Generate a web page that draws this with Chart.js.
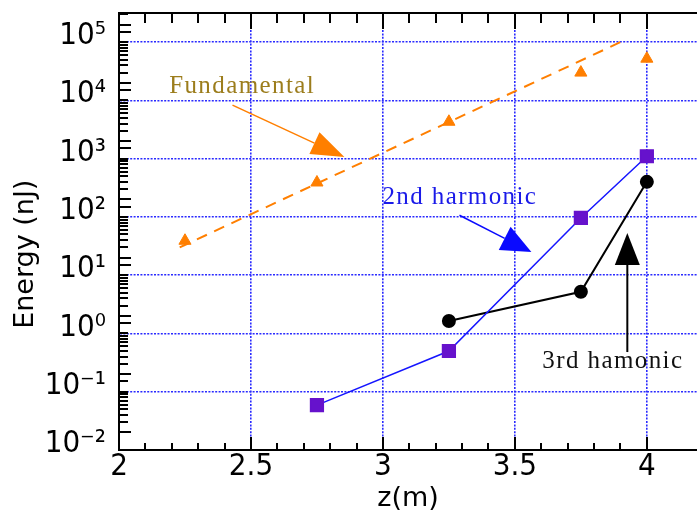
<!DOCTYPE html>
<html>
<head>
<meta charset="utf-8">
<script src="https://cdn.jsdelivr.net/npm/chart.js@4.4.1/dist/chart.umd.min.js"></script>
<style>
    html, body { margin: 0; padding: 0; background: #fff; }
    canvas { display: block; }
</style>
</head>
<body>
<canvas id="energyChart" width="697" height="516"></canvas>
<script>
const fundZ = [2.25, 2.75, 3.25, 3.75, 4.0];
const fundEnergy = [39, 390, 4300, 30000, 52000];
// dashed fit through the fundamental
const fitZ = [2.23, 3.91];
const fitEnergy = [30, 105000];
const secondZ = [2.75, 3.25, 3.75, 4.0];
const secondEnergy = [0.059, 0.5, 96, 1100];
const thirdZ = [3.25, 3.75, 4.0];
const thirdEnergy = [1.64, 5.2, 400];

// axis ticks
const zTickLabels = [2, 2.5, 3, 3.5, 4];
const energyExponents = [-2, -1, 0, 1, 2, 3, 4, 5];

// labels and arrows, in data coordinates
const noteTexts = ['Fundamental', '2nd harmonic', '3rd hamonic'];
const noteColors = ['#9c7d1c', '#1a1ae8', '#111111'];
const noteAt = [[2.19, 13300], [2.998, 166], [3.604, 0.256]];
const arrowFrom = [[2.43, 8300], [3.29, 107], [3.926, 0.48]];
const arrowTo = [[2.854, 1070], [3.5625, 25], [3.926, 53]];
const arrowColors = ['#ff7f00', '#0a0aff', '#000000'];

const supMap = {'-': '\u207B', '0': '\u2070', '1': '\u00B9', '2': '\u00B2', '3': '\u00B3', '4': '\u2074', '5': '\u2075'};
const tickFont = "'Liberation Sans Narrow', 'DejaVu Sans Condensed', sans-serif";
const gridBlue = '#2a2aff';

function pts(xs, ys) {
    return xs.map((v, i) => ({x: v, y: ys[i]}));
}

function decadeOf(v) {
    const e = Math.log10(v);
    return Math.abs(e - Math.round(e)) < 1e-6 ? Math.round(e) : null;
}

const data = {
    datasets: [
        {
            label: 'fit',
            data: pts(fitZ, fitEnergy),
            borderColor: '#ff7f00',
            borderWidth: 2,
            borderDash: [11, 8],
            pointRadius: 0,
            showLine: true
        },
        {
            label: 'Fundamental',
            data: pts(fundZ, fundEnergy),
            pointStyle: 'triangle',
            pointRadius: 7,
            backgroundColor: '#ff7f00',
            borderColor: '#ff7f00',
            showLine: false
        },
        {
            label: '2nd harmonic',
            data: pts(secondZ, secondEnergy),
            pointStyle: 'rect',
            pointRadius: 9,
            backgroundColor: '#6612cc',
            pointBorderColor: '#6612cc',
            borderColor: '#1515ff',
            borderWidth: 1.5,
            showLine: true
        },
        {
            label: '3rd harmonic',
            data: pts(thirdZ, thirdEnergy),
            pointStyle: 'circle',
            pointRadius: 6,
            backgroundColor: '#000',
            borderColor: '#000',
            borderWidth: 2,
            showLine: true
        }
    ]
};

let options = {
    responsive: false,
    animation: false,
    layout: {
        autoPadding: false,
        padding: {left: 0, top: 13, right: 0, bottom: 0}
    },
    plugins: {
        legend: {display: false},
        tooltip: {enabled: false}
    },
    scales: {
        x: {
            type: 'linear',
            min: 2,
            max: 4.19,
            border: {color: '#000', width: 2, dash: [2, 1.4]},
            grid: {
                drawTicks: false,
                lineWidth: 1.6,
                color: (c) => {
                    const v = c.tick ? c.tick.value : 0;
                    const h = v * 2;
                    return (Math.abs(h - Math.round(h)) < 1e-6 && v > 2.01) ? gridBlue : 'rgba(0,0,0,0)';
                }
            },
            ticks: {
                stepSize: 0.1,
                autoSkip: false,
                minRotation: 0,
                maxRotation: 0,
                padding: 1,
                color: '#000',
                font: {family: tickFont, size: 31, lineHeight: 1},
                callback: (v) => {
                    const hit = zTickLabels.find(t => Math.abs(t - v) < 1e-6);
                    return hit === undefined ? '' : String(hit);
                }
            },
            title: {
                display: true,
                text: 'z(m)',
                color: '#000',
                font: {family: "'DejaVu Sans', sans-serif", size: 27},
                padding: {top: 0, bottom: 1}
            },
            afterFit: (s) => {
                s.height = 66;
                s.paddingLeft = 0;
                s.paddingRight = 0;
            }
        },
        y: {
            type: 'logarithmic',
            min: 0.01,
            max: 316228,
            border: {color: '#000', width: 2, dash: [2, 1.4]},
            grid: {
                drawTicks: false,
                lineWidth: 1.6,
                color: (c) => {
                    const v = c.tick ? c.tick.value : 0;
                    const d = decadeOf(v);
                    return (d !== null && d > -2) ? gridBlue : 'rgba(0,0,0,0)';
                }
            },
            ticks: {
                autoSkip: false,
                padding: 13,
                labelOffset: -6,
                color: '#000',
                font: {family: tickFont, size: 31, lineHeight: 1},
                callback: (v) => {
                    const d = decadeOf(v);
                    if (d === null || !energyExponents.includes(d)) return '';
                    return '10' + String(d).split('').map(ch => supMap[ch]).join('');
                }
            },
            // title is drawn by the annotations plugin, it sits below the axis centre
            title: {display: false},
            afterFit: (s) => {
                s.width = 119;
                s.paddingTop = 0;
                s.paddingBottom = 0;
            }
        }
    }
};

// inward tick marks and the top frame line
const frameTicks = {
    id: 'frameTicks',
    afterDraw: (chart) => {
        const {ctx, chartArea: {left, right, top, bottom}, scales: {x, y}} = chart;
        ctx.save();
        ctx.strokeStyle = '#000';
        ctx.lineWidth = 2;
        ctx.beginPath();
        ctx.moveTo(left, top);
        ctx.lineTo(right, top);
        x.ticks.forEach(t => {
            if (t.value <= x.min + 1e-6 || t.value >= x.max - 1e-6) return;
            const h = t.value * 2;
            const major = Math.abs(h - Math.round(h)) < 1e-6;
            const px = Math.round(x.getPixelForValue(t.value));
            ctx.moveTo(px, bottom);
            ctx.lineTo(px, bottom - (major ? 13 : 7));
            ctx.moveTo(px, top);
            ctx.lineTo(px, top + (major ? 16 : 10));
        });
        y.ticks.forEach(t => {
            const v = t.value;
            if (v <= y.min * 1.001 || v >= y.max * 0.999) return;
            const m = Math.round(v / Math.pow(10, Math.floor(Math.log10(v) + 1e-9)));
            const py = Math.round(y.getPixelForValue(v));
            ctx.moveTo(left, py);
            ctx.lineTo(left + (m === 2 ? 12 : 9), py);
        });
        ctx.stroke();
        ctx.restore();
    }
};

function drawArrow(ctx, x1, y1, x2, y2, len, wid, color, lw) {
    const a = Math.atan2(y2 - y1, x2 - x1);
    const bx = x2 - len * Math.cos(a);
    const by = y2 - len * Math.sin(a);
    ctx.strokeStyle = color;
    ctx.fillStyle = color;
    ctx.lineWidth = lw;
    ctx.beginPath();
    ctx.moveTo(x1, y1);
    ctx.lineTo(bx, by);
    ctx.stroke();
    ctx.beginPath();
    ctx.moveTo(x2, y2);
    ctx.lineTo(bx - wid / 2 * Math.sin(a), by + wid / 2 * Math.cos(a));
    ctx.lineTo(bx + wid / 2 * Math.sin(a), by - wid / 2 * Math.cos(a));
    ctx.closePath();
    ctx.fill();
}

const annotations = {
    id: 'annotations',
    afterDraw: (chart) => {
        const {ctx, chartArea: {top, bottom}, scales: {x, y}} = chart;
        ctx.save();
        ctx.font = "25px 'Liberation Serif', serif";
        ctx.letterSpacing = '1.4px';
        ctx.textBaseline = 'alphabetic';
        ctx.textAlign = 'left';
        noteTexts.forEach((txt, i) => {
            ctx.fillStyle = noteColors[i];
            ctx.fillText(txt, x.getPixelForValue(noteAt[i][0]), y.getPixelForValue(noteAt[i][1]));
        });
        ctx.letterSpacing = '0px';
        const heads = [[33, 24], [30, 26], [32, 25]];
        const widths = [1.5, 1.5, 2];
        arrowFrom.forEach((f, i) => {
            drawArrow(ctx,
                x.getPixelForValue(f[0]), y.getPixelForValue(f[1]),
                x.getPixelForValue(arrowTo[i][0]), y.getPixelForValue(arrowTo[i][1]),
                heads[i][0], heads[i][1], arrowColors[i], widths[i]);
        });
        // y axis title, a little below the middle of the axis
        ctx.translate(33, top + (bottom - top) * 0.552);
        ctx.rotate(-Math.PI / 2);
        ctx.font = "27px 'DejaVu Sans', sans-serif";
        ctx.fillStyle = '#000';
        ctx.textAlign = 'center';
        ctx.fillText('Energy (nJ)', 0, 0);
        ctx.restore();
    }
};

let ctx = document.getElementById('energyChart').getContext('2d');

let energyChart = new Chart(
    ctx,
    {
        type: 'scatter',
        data: data,
        options: options,
        plugins: [frameTicks, annotations]
    }
);
</script>
</body>
</html>
